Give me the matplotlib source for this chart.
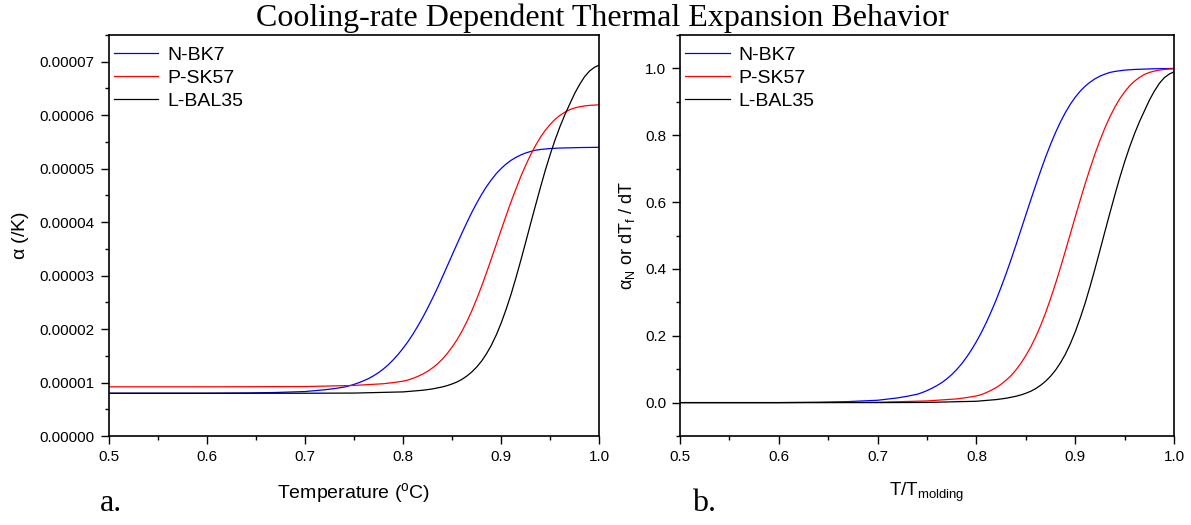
import numpy as np
import matplotlib
matplotlib.use("Agg")
import matplotlib.pyplot as plt
from matplotlib.ticker import MultipleLocator

# values
names = ["N-BK7", "P-SK57", "L-BAL35"]
colors = ["#0000ff", "#ff0000", "#000000"]

# N-BK7
x_bk7 = [0.5, 0.6, 0.64, 0.67, 0.70, 0.72, 0.73, 0.74, 0.745, 0.75, 0.755, 0.76, 0.765, 0.77,
         0.775, 0.78, 0.785, 0.79, 0.795, 0.80, 0.805, 0.81, 0.815, 0.82, 0.825, 0.83, 0.835,
         0.84, 0.845, 0.85, 0.855, 0.86, 0.865, 0.87, 0.875, 0.88, 0.885, 0.89, 0.895, 0.90,
         0.905, 0.91, 0.915, 0.92, 0.925, 0.93, 0.935, 0.94, 0.95, 0.96, 0.98, 1.0]
norm_bk7 = [0, 0, 0.001, 0.003, 0.007, 0.014, 0.019, 0.025, 0.030, 0.036, 0.043, 0.051, 0.060, 0.071,
            0.084, 0.099, 0.116, 0.136, 0.158, 0.183, 0.210, 0.240, 0.273, 0.308, 0.346, 0.386, 0.428,
            0.472, 0.517, 0.562, 0.607, 0.651, 0.694, 0.735, 0.773, 0.808, 0.840, 0.868, 0.893, 0.914,
            0.932, 0.947, 0.959, 0.969, 0.977, 0.983, 0.988, 0.991, 0.995, 0.997, 0.999, 1.0]
alpha_bk7 = [0.800, 0.800, 0.805, 0.814, 0.832, 0.864, 0.887, 0.915, 0.938, 0.966, 0.998, 1.035, 1.076, 1.127,
             1.186, 1.255, 1.334, 1.426, 1.527, 1.642, 1.766, 1.904, 2.056, 2.217, 2.392, 2.576, 2.769,
             2.971, 3.178, 3.385, 3.592, 3.795, 3.992, 4.181, 4.356, 4.517, 4.664, 4.793, 4.908, 5.004,
             5.087, 5.156, 5.211, 5.257, 5.294, 5.322, 5.345, 5.359, 5.377, 5.386, 5.395, 5.400]

# P-SK57
x_sk57 = [0.5, 0.6, 0.70, 0.75, 0.78, 0.79, 0.80, 0.805, 0.81, 0.815, 0.82, 0.825, 0.83, 0.835,
          0.84, 0.845, 0.85, 0.855, 0.86, 0.865, 0.87, 0.875, 0.88, 0.885, 0.89, 0.895, 0.90,
          0.905, 0.91, 0.915, 0.92, 0.925, 0.93, 0.935, 0.94, 0.945, 0.95, 0.955, 0.96, 0.965,
          0.97, 0.975, 0.98, 0.985, 0.99, 1.0]
norm_sk57 = [0, 0, 0.001, 0.005, 0.011, 0.015, 0.020, 0.024, 0.030, 0.037, 0.045, 0.055, 0.067, 0.081,
             0.098, 0.118, 0.141, 0.167, 0.197, 0.231, 0.269, 0.311, 0.356, 0.404, 0.454, 0.505, 0.556,
             0.606, 0.655, 0.701, 0.745, 0.785, 0.822, 0.855, 0.884, 0.909, 0.930, 0.948, 0.962, 0.973,
             0.982, 0.988, 0.992, 0.995, 0.997, 0.999]
alpha_sk57 = [0.920, 0.920, 0.925, 0.946, 0.978, 0.999, 1.026, 1.047, 1.078, 1.115, 1.158, 1.210, 1.274, 1.348,
              1.437, 1.543, 1.664, 1.802, 1.960, 2.140, 2.340, 2.562, 2.800, 3.053, 3.317, 3.586, 3.856,
              4.120, 4.378, 4.621, 4.854, 5.065, 5.260, 5.434, 5.588, 5.720, 5.830, 5.925, 5.999, 6.057,
              6.105, 6.137, 6.158, 6.174, 6.184, 6.195]

# L-BAL35
x_bal35 = [0.5, 0.7, 0.75, 0.80, 0.82, 0.83, 0.84, 0.845, 0.85, 0.855, 0.86, 0.865, 0.87, 0.875,
           0.88, 0.885, 0.89, 0.895, 0.90, 0.905, 0.91, 0.915, 0.92, 0.925, 0.93, 0.935, 0.94,
           0.945, 0.95, 0.955, 0.96, 0.965, 0.97, 0.975, 0.98, 0.985, 0.99, 0.995, 1.0]
norm_bal35 = [0, 0, 0.0005, 0.004, 0.009, 0.013, 0.019, 0.023, 0.028, 0.034, 0.042, 0.052, 0.064, 0.079,
              0.097, 0.119, 0.145, 0.176, 0.212, 0.253, 0.298, 0.348, 0.401, 0.456, 0.512, 0.567, 0.621,
              0.673, 0.721, 0.765, 0.805, 0.841, 0.873, 0.905, 0.932, 0.955, 0.972, 0.983, 0.990]
alpha_bal35 = [0.800, 0.800, 0.803, 0.825, 0.856, 0.881, 0.918, 0.943, 0.974, 1.011, 1.060, 1.122, 1.197, 1.290,
               1.401, 1.538, 1.699, 1.891, 2.114, 2.369, 2.648, 2.958, 3.286, 3.627, 3.974, 4.315, 4.650,
               4.973, 5.270, 5.543, 5.791, 6.014, 6.213, 6.411, 6.578, 6.721, 6.826, 6.895, 6.938]

xs = [x_bk7, x_sk57, x_bal35]
norms = [norm_bk7, norm_sk57, norm_bal35]
alphas = [alpha_bk7, alpha_sk57, alpha_bal35]  # in 1e-5 /K

plt.rcParams['font.family'] = ['Liberation Sans', 'DejaVu Sans']
plt.rcParams['mathtext.fontset'] = 'custom'
plt.rcParams['mathtext.rm'] = 'Liberation Sans'
plt.rcParams['mathtext.it'] = 'Liberation Sans'

fig = plt.figure(figsize=(11.91, 5.25), dpi=100)
ax1 = fig.add_axes([0.0913, 0.1695, 0.4119, 0.7638])
ax2 = fig.add_axes([0.5710, 0.1695, 0.4148, 0.7638])

for x, a, c, n in zip(xs, alphas, colors, names):
    ax1.plot(x, np.array(a) * 1e-5, color=c, lw=0.9, label=n)
for x, v, c, n in zip(xs, norms, colors, names):
    ax2.plot(x, v, color=c, lw=0.9, label=n)

ax1.set_xlim(0.5, 1.0)
ax1.set_ylim(0, 0.000075)
ax1.yaxis.set_major_locator(MultipleLocator(0.00001))
ax1.yaxis.set_minor_locator(MultipleLocator(0.000005))
ax1.yaxis.set_major_formatter(plt.FuncFormatter(lambda v, p: f"{v:.5f}"))

ax2.set_xlim(0.5, 1.0)
ax2.set_ylim(-0.1, 1.1)
ax2.yaxis.set_major_locator(MultipleLocator(0.2))
ax2.yaxis.set_minor_locator(MultipleLocator(0.1))
ax2.yaxis.set_major_formatter(plt.FuncFormatter(lambda v, p: f"{v:.1f}"))

for ax in (ax1, ax2):
    ax.xaxis.set_major_locator(MultipleLocator(0.1))
    ax.xaxis.set_minor_locator(MultipleLocator(0.05))
    ax.xaxis.set_major_formatter(plt.FuncFormatter(lambda v, p: f"{v:.1f}"))
    ax.tick_params(which='major', direction='out', length=6, width=1, labelsize=11, pad=4)
    ax.tick_params(which='minor', direction='out', length=3, width=1)
    ax.tick_params(top=False, right=False, which='both')
    for s in ax.spines.values():
        s.set_linewidth(1.2)
    ax.legend(loc='upper left', bbox_to_anchor=(-0.004, 0.988), frameon=False, fontsize=14,
              handlelength=2.3, handletextpad=0.45, labelspacing=0.26, borderaxespad=0.0,
              borderpad=0.35)

ax1.set_xlabel(r"Temperature ($\mathregular{^o}$C)", fontsize=14, labelpad=12)
ax1.set_ylabel(r"$\mathregular{\alpha}$ (/K)", fontsize=14, labelpad=6)
ax2.set_xlabel(r"T/T$_\mathregular{molding}$", fontsize=13.5, labelpad=12)
ax2.set_ylabel(r"$\mathregular{\alpha_N}$ or dT$_\mathregular{f}$ / dT", fontsize=13, labelpad=6)

fig.text(0.506, 0.966, "Cooling-rate Dependent Thermal Expansion Behavior",
         family='Liberation Serif', fontsize=23, ha='center', va='center')
fig.text(0.084, 0.026, "a.", family='Liberation Serif', fontsize=23, ha='left', va='baseline')
fig.text(0.581, 0.026, "b.", family='Liberation Serif', fontsize=23, ha='left', va='baseline')

fig.savefig("out.png", dpi=100)
